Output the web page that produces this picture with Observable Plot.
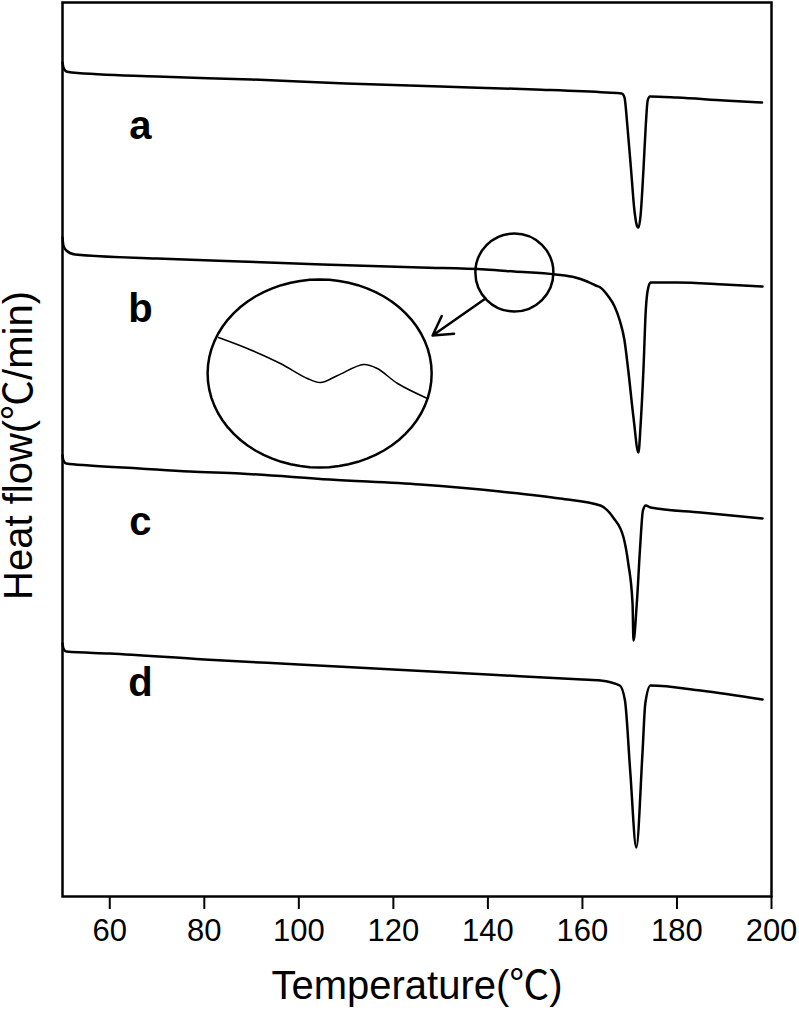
<!DOCTYPE html>
<html>
<head>
<meta charset="utf-8">
<script src="https://cdn.jsdelivr.net/npm/d3@7"></script>
<script src="https://cdn.jsdelivr.net/npm/@observablehq/plot@0.6"></script>
<style>
  html, body { margin: 0; padding: 0; background: #fff; }
  #chart svg { display: block; }
</style>
</head>
<body>
<div id="chart"></div>
<script>
// DSC curves: [temperature (°C), heat flow (arbitrary units, curves offset)]
const curveA = [[50.0,834],[50.2,829],[50.8,825],[52,824],[70,820],[90,817],[110,813],[130,810],[150,807],[165,804],[168.3,803],[168.9,799],[169.5,771],[170.3,726],[171.0,686],[171.6,670],[171.9,669],[172.3,681],[172.9,726],[173.4,771],[173.8,796],[174.3,800],[180,799],[190,796],[198,794]];
const curveB = [[50.0,659],[50.2,651],[50.8,646],[52.7,642],[70,638],[87.6,635],[105,632],[125.7,629],[139.5,627],[145.6,625],[154.3,622],[158.5,619],[161,615],[162.8,611],[163.8,609],[165.5,600],[166.8,590],[167.9,576],[168.9,556],[169.7,526],[170.8,479],[171.85,444],[172.3,471],[172.9,526],[173.4,586],[173.8,606],[174.4,614],[180,614],[190,612],[198.1,610]];
const curveC = [[50.0,441],[50.2,436],[50.8,433],[55.7,431],[66.3,428],[76.9,425],[87.6,423],[106.6,417],[125.7,412],[142.6,405],[155.3,398],[163.8,391],[166.5,379],[168.7,359],[169.7,333],[170.6,293],[170.8,256],[171.5,293],[172.2,349],[172.8,386],[173.4,391],[174.4,389],[185,384],[198.1,378]];
const curveD = [[50.0,253],[50.2,248],[50.8,245],[60,243],[80,237],[100,232],[120,227],[140,222],[160,217],[163.8,216],[167.9,211],[169.0,196],[170.1,126],[171.4,49],[172.7,143],[173.3,193],[174.4,211],[185,206],[198.1,197]];
const curveLabels = ["a","b","c","d"];
const labelTemp = [66.5, 66.5, 66.5, 66.5];
const labelFlow = [770, 587, 374, 213];
// magnified inset of curve b near 145 °C (drawn in plot coordinates)
const insetCurve = [[83.0,559],[89.1,548],[96.1,533],[101.8,518],[104.6,514],[108.2,521],[113.7,532],[116.6,528],[120.9,513],[127.2,498]];
const insetCenter = [104.4, 523];
const insetRadii = [23.7, 94];
const spotCenter = [145.6, 624];
const arrowFrom = [139.5, 598];
const arrowTo = [128.3, 561];
const xTicks = [60, 80, 100, 120, 140, 160, 180, 200];
const xTitle = "Temperature(℃)";
const yTitle = "Heat flow(℃/min)";

const toRows = (arr) => arr.map(([t, f]) => ({t, f}));
const ellipse = d3.range(0, 73).map(i => {
  const a = (i / 72) * 2 * Math.PI;
  return {t: insetCenter[0] + insetRadii[0] * Math.cos(a), f: insetCenter[1] + insetRadii[1] * Math.sin(a)};
});
const labels = curveLabels.map((s, i) => ({s, t: labelTemp[i], f: labelFlow[i]}));

const fontFamily = "'Liberation Sans', Arial, 'Noto Sans CJK SC', sans-serif";

const chart = Plot.plot({
  width: 799,
  height: 1022,
  marginLeft: 62,
  marginRight: 28,
  marginTop: 2,
  marginBottom: 126,
  style: {fontFamily, background: "#fff", color: "#000"},
  x: {domain: [50, 200]},
  y: {domain: [0, 894], axis: null},
  marks: [
    Plot.frame({stroke: "#000", strokeWidth: 2.5}),
    Plot.axisX({ticks: xTicks, tickSize: 13, label: null, strokeWidth: 2, tickFormat: () => ""}),
    Plot.text(xTicks, {x: d => d, text: d => String(d), frameAnchor: "bottom", dy: 44, fontSize: 31, fill: "#000"}),
    ...[curveA, curveB, curveC, curveD].map(c =>
      Plot.line(toRows(c), {x: "t", y: "f", stroke: "#000", strokeWidth: 2.5, strokeLinejoin: "round", curve: "monotone-x"})
    ),
    Plot.text(labels, {x: "t", y: "f", text: "s", fontSize: 40, fontWeight: "bold", fill: "#000"}),
    Plot.line(ellipse, {x: "t", y: "f", stroke: "#000", strokeWidth: 2.5}),
    Plot.line(toRows(insetCurve), {x: "t", y: "f", stroke: "#000", strokeWidth: 1.5, curve: "catmull-rom"}),
    Plot.dot([spotCenter], {x: d => d[0], y: d => d[1], r: 39, stroke: "#000", strokeWidth: 2.5, fill: "none"}),
    Plot.arrow([{x1: arrowFrom[0], y1: arrowFrom[1], x2: arrowTo[0], y2: arrowTo[1]}], {x1: "x1", y1: "y1", x2: "x2", y2: "y2", stroke: "#000", strokeWidth: 2.5, headLength: 14}),
    Plot.text([xTitle], {text: d => d, frameAnchor: "bottom", dy: 102, fontSize: 40, fill: "#000"}),
    Plot.text([yTitle], {text: d => d, frameAnchor: "left", textAnchor: "middle", rotate: -90, dx: -43, dy: -4, fontSize: 40, fill: "#000"})
  ]
});
document.getElementById("chart").appendChild(chart);
</script>
</body>
</html>
